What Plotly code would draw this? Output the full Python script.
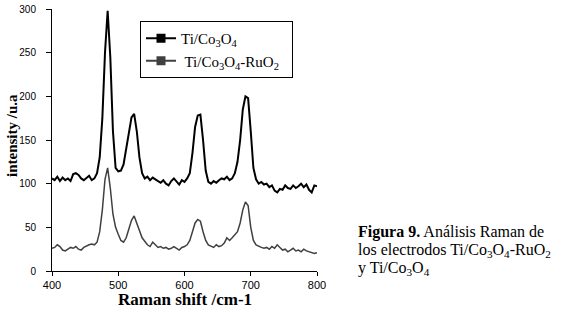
import plotly.graph_objects as go

raman_shift = list(range(400, 804, 4))

ti_co3o4 = [106, 104, 108, 103, 107, 104, 106, 103, 111, 112,
            110, 106, 104, 107, 109, 104, 106, 112, 130, 175,
            250, 298, 245, 160, 118, 114, 115, 122, 140, 160,
            176, 180, 160, 130, 112, 106, 108, 104, 107, 105,
            103, 101, 104, 100, 98, 103, 106, 102, 99, 104,
            102, 106, 112, 135, 165, 178, 179, 150, 115, 102,
            100, 103, 101, 104, 106, 105, 108, 104, 106, 112,
            125, 150, 185, 200, 198, 160, 118, 105, 100, 102,
            99, 100, 96, 98, 92, 90, 94, 93, 98, 95,
            94, 98, 95, 97, 100, 96, 99, 93, 90, 98, 97]

ti_co3o4_ruo2 = [26, 27, 30, 28, 24, 23, 25, 27, 26, 28,
                 25, 24, 27, 29, 30, 31, 30, 33, 45, 70,
                 105, 118, 95, 65, 50, 42, 35, 33, 38, 48,
                 58, 63, 55, 45, 38, 34, 30, 28, 33, 30,
                 27, 28, 26, 27, 25, 26, 28, 26, 24, 27,
                 28, 30, 35, 45, 55, 59, 57, 45, 35, 30,
                 28, 27, 30, 28, 29, 32, 38, 35, 38, 42,
                 45, 55, 70, 79, 75, 50, 35, 30, 28, 27,
                 26, 27, 25, 28, 26, 30, 27, 24, 25, 22,
                 24, 26, 23, 24, 22, 25, 23, 22, 21, 20, 21]

x_ticks = [400, 500, 600, 700, 800]
y_ticks = [0, 50, 100, 150, 200, 250, 300]

series_names = ["Ti/Co<sub>3</sub>O<sub>4</sub>",
                " Ti/Co<sub>3</sub>O<sub>4</sub>-RuO<sub>2</sub>\u00a0\u00a0"]
colors = ["#000000", "#404040"]
widths = [2, 1.5]

fig = go.Figure()
for ys, name, c, w in zip([ti_co3o4, ti_co3o4_ruo2], series_names, colors, widths):
    fig.add_trace(go.Scatter(x=raman_shift, y=ys, mode="lines",
                             line=dict(color=c, width=w), showlegend=False))
for i, (name, c) in enumerate(zip(series_names, colors)):
    fig.add_trace(go.Scatter(x=[None], y=[None], mode="lines+markers", name=name,
                             line=dict(color=c, width=2),
                             marker=dict(symbol="square", size=9, color=c)))

serif = "Liberation Serif, Times New Roman, serif"
sans = "Liberation Sans, Arial, sans-serif"

FW, FH = 563, 312
L, R, T, B = 52, 317, 9, 271   # plot area in window pixels
W, H = R - L, B - T


def px(x):
    return (x - L) / W


def py(y):
    return (B - y) / H


fig.update_layout(
    width=FW, height=FH,
    margin=dict(l=L, r=FW - R, t=T, b=FH - B, pad=0),
    paper_bgcolor="white", plot_bgcolor="white",
    showlegend=True,
    legend=dict(x=px(140), y=py(21), xanchor="left", yanchor="top",
                bordercolor="black", borderwidth=1, bgcolor="white",
                font=dict(family=serif, size=15, color="black"),
                tracegroupgap=0, itemwidth=30),
    xaxis=dict(range=[400, 800], tickvals=x_ticks, showgrid=False, zeroline=False,
               showline=True, linecolor="black", linewidth=1, automargin=False,
               ticks="outside", ticklen=4, tickcolor="black",
               tickfont=dict(family=sans, size=11, color="black")),
    yaxis=dict(range=[0, 300], tickvals=y_ticks, showgrid=False, zeroline=False,
               showline=True, linecolor="black", linewidth=1, automargin=False,
               ticks="outside", ticklen=5, tickcolor="black",
               ticklabelstandoff=8,
               tickfont=dict(family=sans, size=10, color="black")),
)

# axis titles
fig.add_annotation(text="<b>Raman shift /cm-1</b>", xref="paper", yref="paper",
                   x=px(185), y=py(299), xanchor="center", yanchor="middle",
                   showarrow=False, font=dict(family=serif, size=17, color="black"))
fig.add_annotation(text="<b>intensity /u.a</b>", xref="paper", yref="paper",
                   x=px(12), y=py(136), xanchor="center", yanchor="middle",
                   textangle=-90, showarrow=False,
                   font=dict(family=serif, size=15, color="black"))

caption = ["<b>Figura 9.</b> Análisis Raman de",
           "los electrodos Ti/Co<sub>3</sub>O<sub>4</sub>-RuO<sub>2</sub>",
           "y Ti/Co<sub>3</sub>O<sub>4</sub>"]
for i, line in enumerate(caption):
    fig.add_annotation(text=line, xref="paper", yref="paper",
                       x=px(356), y=py(232 + 18 * i),
                       xanchor="left", yanchor="middle", showarrow=False,
                       font=dict(family=serif, size=16, color="black"))

# remove the browser's default 8px body margin so the figure fills the window
fig.write_html("out.html", config={"displayModeBar": False},
               post_script="document.body.style.margin='0';")
